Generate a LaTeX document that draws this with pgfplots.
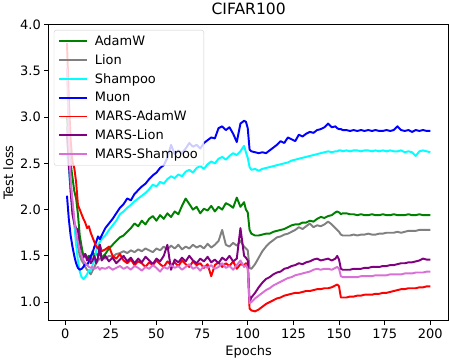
\documentclass[border=0pt]{standalone}
\usepackage{fontspec}
\setmainfont{DejaVu Sans}
\usepackage{pgfplots}
\usepackage{pgfplotstable}
\pgfplotsset{compat=1.18}
\definecolor{cAdamW}{HTML}{008000}
\definecolor{cLion}{HTML}{808080}
\definecolor{cShampoo}{HTML}{00FFFF}
\definecolor{cMuon}{HTML}{0000FF}
\definecolor{cMAdamW}{HTML}{FF0000}
\definecolor{cMLion}{HTML}{800080}
\definecolor{cMShampoo}{HTML}{DA70D6}

% ep adamw lion shampoo muon madamw mlion mshampoo
\pgfplotstableread{
ep adamw lion shampoo muon madamw mlion mshampoo
1 3.00 2.90 2.60 2.15 3.80 2.80 3.53
2 2.75 2.60 2.45 1.90 3.20 2.50 2.80
3 2.50 2.30 2.20 1.72 2.75 2.20 2.30
4 2.35 2.05 2.00 1.60 2.52 1.95 2.10
5 2.20 1.85 1.85 1.50 2.45 1.85 1.90
6 2.12 1.70 1.62 1.42 2.30 1.80 1.75
7 1.95 1.60 1.45 1.37 2.05 1.78 1.65
8 1.72 1.50 1.33 1.35 2.00 1.60 1.56
9 1.60 1.45 1.27 1.36 1.95 1.50 1.50
10 1.50 1.42 1.25 1.38 1.90 1.48 1.45
11 1.52 1.38 1.27 1.42 1.86 1.52 1.42
12 1.48 1.35 1.30 1.40 1.80 1.45 1.40
13 1.50 1.33 1.35 1.44 1.82 1.48 1.38
14 1.46 1.30 1.33 1.50 1.75 1.42 1.37
15 1.55 1.34 1.40 1.53 1.70 1.45 1.38
16 1.50 1.38 1.45 1.60 1.65 1.50 1.36
17 1.53 1.42 1.55 1.65 1.60 1.42 1.37
18 1.50 1.45 1.62 1.71 1.58 1.48 1.38
19 1.52 1.47 1.65 1.68 1.62 1.62 1.35
20 1.48 1.48 1.68 1.72 1.55 1.45 1.37
22 1.52 1.47 1.72 1.80 1.57 1.50 1.36
24 1.58 1.50 1.78 1.85 1.60 1.44 1.38
26 1.62 1.49 1.83 1.90 1.50 1.48 1.35
28 1.66 1.52 1.88 1.96 1.47 1.42 1.37
30 1.70 1.53 1.95 2.02 1.52 1.46 1.39
32 1.72 1.55 1.98 2.06 1.45 1.50 1.36
34 1.76 1.53 2.02 2.12 1.42 1.44 1.38
36 1.80 1.56 2.05 2.10 1.46 1.48 1.35
38 1.85 1.54 2.09 2.17 1.40 1.42 1.39
40 1.82 1.57 2.12 2.21 1.44 1.47 1.37
42 1.88 1.55 2.15 2.25 1.42 1.43 1.34
44 1.84 1.58 2.18 2.28 1.38 1.49 1.38
46 1.90 1.56 2.22 2.33 1.43 1.45 1.36
48 1.93 1.54 2.27 2.37 1.40 1.41 1.40
50 1.88 1.58 2.25 2.40 1.45 1.47 1.37
52 1.94 1.56 2.30 2.45 1.41 1.44 1.33
54 1.90 1.60 2.28 2.48 1.38 1.50 1.38
56 1.96 1.57 2.33 2.56 1.44 1.62 1.36
58 1.92 1.61 2.36 2.70 1.40 1.35 1.40
60 1.98 1.58 2.34 2.60 1.43 1.46 1.37
62 1.95 1.62 2.38 2.64 1.39 1.43 1.39
64 2.04 1.57 2.36 2.61 1.45 1.48 1.35
66 2.12 1.60 2.41 2.66 1.41 1.44 1.38
68 2.06 1.58 2.43 2.72 1.38 1.50 1.41
70 2.00 1.62 2.40 2.68 1.44 1.45 1.36
72 2.03 1.59 2.45 2.70 1.40 1.42 1.38
74 1.96 1.61 2.47 2.66 1.42 1.47 1.34
76 2.01 1.58 2.44 2.72 1.37 1.44 1.39
78 1.99 1.63 2.49 2.75 1.41 1.49 1.37
80 2.04 1.59 2.52 2.78 1.28 1.43 1.40
82 1.98 1.62 2.50 2.77 1.40 1.46 1.36
84 2.03 1.66 2.55 2.88 1.43 1.42 1.38
86 2.00 1.78 2.57 2.90 1.38 1.48 1.42
88 2.07 1.62 2.54 2.86 1.42 1.45 1.37
90 2.05 1.60 2.58 2.89 1.39 1.50 1.39
92 2.02 1.64 2.61 2.82 1.44 1.44 1.35
94 2.13 1.61 2.59 2.73 1.36 1.47 1.40
96 2.03 1.66 2.63 2.93 1.41 1.80 1.45
98 2.08 1.60 2.69 2.96 1.40 1.50 1.38
99 2.00 1.58 2.62 2.95 1.42 1.48 1.40
100 1.97 1.56 2.56 2.88 1.40 1.45 1.36
101 1.78 1.37 2.46 2.65 0.93 1.00 0.99
102 1.74 1.36 2.43 2.63 0.91 1.05 1.00
104 1.72 1.41 2.44 2.62 0.90 1.10 1.04
106 1.72 1.48 2.42 2.61 0.92 1.16 1.07
108 1.73 1.55 2.44 2.62 0.95 1.21 1.10
110 1.74 1.60 2.45 2.61 0.98 1.25 1.13
112 1.74 1.64 2.46 2.64 1.00 1.27 1.15
114 1.76 1.67 2.47 2.67 1.02 1.30 1.18
116 1.77 1.70 2.48 2.70 1.04 1.32 1.20
118 1.78 1.71 2.49 2.74 1.05 1.33 1.22
120 1.79 1.73 2.50 2.72 1.07 1.36 1.24
122 1.81 1.74 2.51 2.78 1.08 1.37 1.26
124 1.83 1.76 2.53 2.76 1.09 1.39 1.27
126 1.84 1.78 2.54 2.74 1.10 1.40 1.29
128 1.84 1.81 2.55 2.81 1.10 1.42 1.30
130 1.86 1.79 2.56 2.79 1.11 1.41 1.31
132 1.86 1.82 2.57 2.82 1.12 1.43 1.32
134 1.88 1.85 2.58 2.84 1.12 1.44 1.33
136 1.87 1.81 2.59 2.83 1.13 1.46 1.35
138 1.90 1.83 2.60 2.86 1.14 1.47 1.36
140 1.92 1.82 2.61 2.87 1.14 1.45 1.35
142 1.91 1.84 2.62 2.89 1.15 1.46 1.36
144 1.93 1.87 2.63 2.93 1.15 1.47 1.36
146 1.94 1.84 2.62 2.89 1.16 1.45 1.35
148 1.97 1.80 2.63 2.90 1.18 1.47 1.37
149 1.98 1.78 2.63 2.88 1.19 1.50 1.38
150 1.97 1.76 2.64 2.87 1.17 1.46 1.36
151 1.95 1.73 2.64 2.87 1.05 1.36 1.28
152 1.96 1.72 2.63 2.86 1.05 1.35 1.27
154 1.96 1.72 2.64 2.86 1.05 1.35 1.27
156 1.95 1.72 2.63 2.85 1.06 1.35 1.27
158 1.95 1.73 2.64 2.86 1.06 1.36 1.27
160 1.94 1.72 2.64 2.85 1.07 1.36 1.27
162 1.95 1.73 2.63 2.86 1.07 1.36 1.28
164 1.94 1.73 2.64 2.85 1.08 1.37 1.28
166 1.94 1.74 2.64 2.86 1.08 1.37 1.28
168 1.95 1.73 2.63 2.85 1.08 1.38 1.28
170 1.94 1.73 2.64 2.86 1.09 1.38 1.29
172 1.94 1.74 2.63 2.85 1.09 1.38 1.29
174 1.95 1.74 2.64 2.85 1.10 1.39 1.29
176 1.94 1.75 2.63 2.86 1.10 1.39 1.29
178 1.94 1.75 2.64 2.85 1.11 1.40 1.30
180 1.95 1.75 2.63 2.86 1.12 1.40 1.30
182 1.94 1.76 2.63 2.90 1.13 1.41 1.30
184 1.94 1.75 2.64 2.86 1.14 1.42 1.30
186 1.94 1.76 2.62 2.85 1.14 1.42 1.31
188 1.95 1.77 2.63 2.86 1.15 1.43 1.31
190 1.94 1.77 2.62 2.84 1.15 1.43 1.31
192 1.94 1.77 2.58 2.86 1.15 1.44 1.32
194 1.95 1.78 2.63 2.85 1.16 1.45 1.32
196 1.94 1.78 2.64 2.86 1.16 1.47 1.32
198 1.94 1.78 2.63 2.85 1.17 1.46 1.33
200 1.94 1.78 2.62 2.85 1.17 1.46 1.33
}\losses

\begin{document}
\begin{tikzpicture}
\begin{axis}[
  width=401pt, height=297pt, scale only axis,
  xmin=-8.95, xmax=209.95, ymin=0.8, ymax=4.0,
  xtick={0,25,...,200}, ytick={1.0,1.5,2.0,2.5,3.0,3.5,4.0},
  yticklabel style={/pgf/number format/.cd, fixed, fixed zerofill, precision=1},
  /pgf/number format/assume math mode=true,
  tick align=outside, major tick length=4.5pt, tick pos=left,
  axis line style={line width=1pt},
  every tick/.style={line width=1pt, black},
  font=\fontsize{13}{15.6}\selectfont,
  title={CIFAR100},
  title style={font=\fontsize{15.6}{18}\selectfont},
  xlabel={Epochs}, ylabel={Test loss},
  legend cell align=left,
  legend image code/.code={\draw[#1, line width=1.95pt] (0pt,0pt) -- (28pt,0pt);
    \path (33pt,0pt);},
  legend style={at={(0.0125,0.982)}, anchor=north west,
    fill=white, fill opacity=0.8, text opacity=1, draw=black!20,
    rounded corners=2.5pt, inner xsep=4pt, inner ysep=3.5pt,
    row sep=3.6pt, nodes={inner sep=2pt},
    font=\fontsize{13}{15.6}\selectfont},
  every axis plot/.append style={line width=1.95pt, line join=round},
]
\addplot[cAdamW] table[x=ep, y=adamw] {\losses};
\addplot[cLion] table[x=ep, y=lion] {\losses};
\addplot[cShampoo] table[x=ep, y=shampoo] {\losses};
\addplot[cMuon] table[x=ep, y=muon] {\losses};
\addplot[cMAdamW] table[x=ep, y=madamw] {\losses};
\addplot[cMLion] table[x=ep, y=mlion] {\losses};
\addplot[cMShampoo] table[x=ep, y=mshampoo] {\losses};
\legend{AdamW,Lion,Shampoo,Muon,MARS-AdamW,MARS-Lion,MARS-Shampoo}
\end{axis}
\end{tikzpicture}
\end{document}
